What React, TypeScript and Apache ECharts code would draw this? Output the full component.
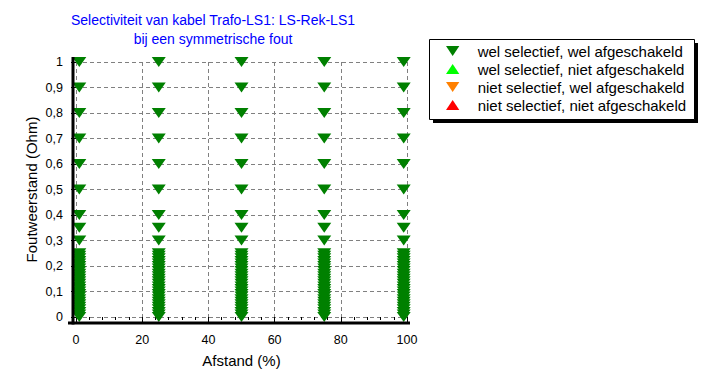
import React, { useEffect, useRef } from "react";
import * as echarts from "echarts";

const titleLines = ["Selectiviteit van kabel Trafo-LS1: LS-Rek-LS1", "bij een symmetrische fout"];
const seriesNames = [
  "wel selectief, wel afgeschakeld",
  "wel selectief, niet afgeschakeld",
  "niet selectief, wel afgeschakeld",
  "niet selectief, niet afgeschakeld",
];
const seriesColors = ["#008000", "#00FF00", "#FF8000", "#FF0000"];
const distances = [1, 25, 50, 75, 99];
const resistances = [
  1, 0.9, 0.8, 0.7, 0.6, 0.5, 0.4, 0.35, 0.3, 0.25, 0.24, 0.23, 0.22, 0.21, 0.2,
  0.19, 0.18, 0.17, 0.16, 0.15, 0.14, 0.13, 0.12, 0.11, 0.1, 0.09, 0.08, 0.07,
  0.06, 0.05, 0.04, 0.03, 0.02, 0.01, 0,
];
const xTicks = [0, 20, 40, 60, 80, 100];
const yTicks = [0, 0.1, 0.2, 0.3, 0.4, 0.5, 0.6, 0.7, 0.8, 0.9, 1];

const DOWN = "path://M0,0L12,0L6,9Z";
const UP = "path://M6,0L12,9L0,9Z";

export default function App() {
  const ref = useRef<HTMLDivElement>(null);
  useEffect(() => {
    document.body.style.margin = "0";
    const chart = echarts.init(ref.current!, null, { renderer: "svg" });
    const font = "'Liberation Sans', Arial, sans-serif";
    const wellData: number[][] = [];
    distances.forEach((d) => resistances.forEach((r) => wellData.push([d, r])));
    const symbols = [DOWN, UP, DOWN, UP];
    chart.setOption({
      animation: false,
      backgroundColor: "#ffffff",
      textStyle: { fontFamily: font },
      title: {
        text: titleLines.join("\n"),
        left: 213,
        top: 10,
        padding: 0,
        textAlign: "center",
        textStyle: { color: "#0000FF", fontSize: 14, fontWeight: "normal", lineHeight: 19, fontFamily: font },
      },
      graphic: [
        { type: "rect", shape: { x: 433, y: 43, width: 265, height: 80 }, style: { fill: "#000" }, z: 0 },
        { type: "rect", shape: { x: 429.5, y: 39.5, width: 265, height: 80 }, style: { fill: "#fff", stroke: "#000", lineWidth: 1 }, z: 1 },
        { type: "line", shape: { x1: 73, y1: 57, x2: 73, y2: 324.5 }, style: { stroke: "#000", lineWidth: 3 }, z: 10 },
        { type: "line", shape: { x1: 68, y1: 323, x2: 410, y2: 323 }, style: { stroke: "#000", lineWidth: 3 }, z: 10 },
      ],
      legend: {
        orient: "vertical",
        left: 446,
        top: 42,
        padding: 0,
        itemWidth: 40,
        itemHeight: 10,
        itemGap: 0,
        z: 5,
        data: seriesNames.map((n, i) => ({ name: n, icon: symbols[i] })),
        textStyle: { fontSize: 15, color: "#000", lineHeight: 18, fontFamily: font },
      },
      grid: { left: 76, right: 306, top: 62, bottom: 65 },
      xAxis: {
        type: "value",
        min: xTicks[0],
        max: xTicks[xTicks.length - 1],
        interval: 20,
        offset: 6,
        name: "Afstand (%)",
        nameLocation: "middle",
        nameGap: 30,
        nameTextStyle: { fontSize: 15, color: "#000", fontFamily: font },
        axisLine: { show: false },
        axisTick: { show: true, length: 5, lineStyle: { color: "#000" } },
        minorTick: { show: true, splitNumber: 5, length: 3, lineStyle: { color: "#000" } },
        axisLabel: { fontSize: 12.5, color: "#000", margin: 10, fontFamily: font },
        splitLine: { show: true, lineStyle: { color: "#808080", type: [4, 3], width: 1 } },
      },
      yAxis: {
        type: "value",
        min: yTicks[0],
        max: yTicks[yTicks.length - 1],
        interval: 0.1,
        offset: 3,
        name: "Foutweerstand (Ohm)",
        nameLocation: "middle",
        nameGap: 34,
        nameTextStyle: { fontSize: 15, color: "#000", fontFamily: font },
        axisLine: { show: false },
        axisTick: { show: true, length: 5, lineStyle: { color: "#000" } },
        axisLabel: {
          fontSize: 12.5,
          color: "#000",
          margin: 10,
          fontFamily: font,
          formatter: (v: number) => String(Math.round(v * 10) / 10).replace(".", ","),
        },
        splitLine: { show: true, lineStyle: { color: "#808080", type: [4, 3], width: 1 } },
      },
      series: seriesNames.map((n, i) => ({
        name: n,
        type: "scatter",
        symbol: symbols[i],
        symbolSize: [14, 10],
        itemStyle: { color: seriesColors[i], opacity: 1 },
        data: i === 0 ? wellData : [],
        z: 3,
      })),
    });
    return () => chart.dispose();
  }, []);
  return <div ref={ref} style={{ width: 713, height: 382 }} />;
}
